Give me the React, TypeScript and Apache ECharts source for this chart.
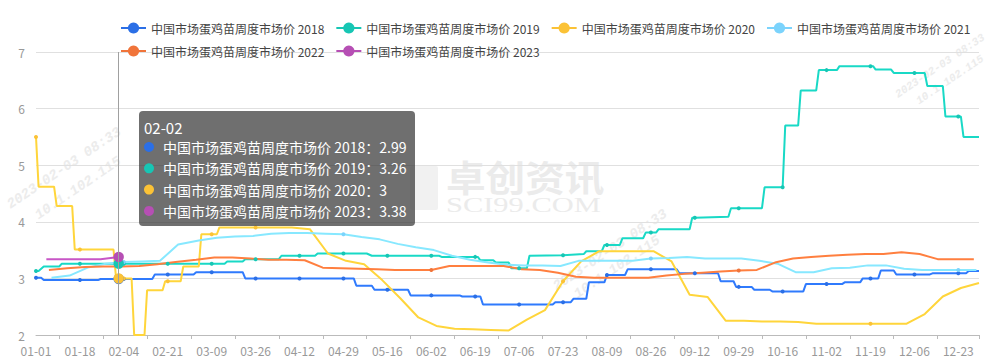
import { useEffect, useRef } from 'react';
import * as echarts from 'echarts';

const FONT = '"Noto Sans CJK SC", "Microsoft YaHei", sans-serif';

// Category axis: every day of a (leap) year as MM-DD
const monthLengths = [31, 29, 31, 30, 31, 30, 31, 31, 30, 31, 30, 31];
const categories: string[] = monthLengths.flatMap((n, m) =>
  Array.from({ length: n }, (_, d) => `${String(m + 1).padStart(2, '0')}-${String(d + 1).padStart(2, '0')}`)
);

const seriesNames = [
  '中国市场蛋鸡苗周度市场价 2018',
  '中国市场蛋鸡苗周度市场价 2019',
  '中国市场蛋鸡苗周度市场价 2020',
  '中国市场蛋鸡苗周度市场价 2021',
  '中国市场蛋鸡苗周度市场价 2022',
  '中国市场蛋鸡苗周度市场价 2023',
];
const seriesColors = ['#2B6FE6', '#17C6B4', '#FBC236', '#7BD3FC', '#F0743A', '#B64FB4'];

const tipDate = '02-02';

const p2018: [string, number][] = [
  ['01-01', 3.01], ['01-03', 3.01], ['01-04', 2.97], ['01-18', 2.97], ['01-25', 2.97], ['01-26', 2.99],
  ['02-02', 2.99], ['02-04', 2.99], ['02-15', 2.99], ['02-16', 3.07], ['02-21', 3.07], ['03-02', 3.07],
  ['03-03', 3.11], ['03-09', 3.11], ['03-21', 3.11], ['03-22', 3.0], ['03-26', 3.0], ['04-12', 3.0],
  ['04-29', 3.0], ['05-03', 3.0], ['05-04', 2.87], ['05-10', 2.87], ['05-11', 2.8], ['05-16', 2.8],
  ['05-24', 2.8], ['05-25', 2.7], ['06-02', 2.7], ['06-13', 2.7], ['06-14', 2.68], ['06-19', 2.68],
  ['06-21', 2.68], ['06-22', 2.54], ['07-06', 2.54], ['07-19', 2.54], ['07-20', 2.58], ['07-23', 2.58],
  ['07-26', 2.58], ['07-27', 2.64], ['08-01', 2.64], ['08-02', 2.93], ['08-08', 2.93], ['08-09', 3.06],
  ['08-16', 3.06], ['08-17', 3.16], ['08-26', 3.16], ['09-05', 3.16], ['09-06', 3.09], ['09-12', 3.09],
  ['09-21', 3.09], ['09-22', 2.95], ['09-27', 2.95], ['09-28', 2.85], ['09-29', 2.85], ['10-04', 2.85],
  ['10-05', 2.8], ['10-11', 2.8], ['10-12', 2.77], ['10-16', 2.77], ['10-24', 2.77], ['10-25', 2.9],
  ['11-02', 2.9], ['11-08', 2.9], ['11-09', 2.93], ['11-15', 2.93], ['11-16', 3.0], ['11-19', 3.0],
  ['11-22', 3.0], ['11-23', 3.14], ['11-28', 3.14], ['11-29', 3.07], ['12-06', 3.07], ['12-12', 3.07],
  ['12-13', 3.09], ['12-23', 3.09], ['12-26', 3.09], ['12-27', 3.13], ['12-31', 3.13],
];

const p2019: [string, number][] = [
  ['01-01', 3.13], ['01-02', 3.13], ['01-04', 3.21], ['01-10', 3.21], ['01-11', 3.26], ['01-18', 3.26],
  ['02-02', 3.26], ['02-04', 3.26], ['02-21', 3.26], ['03-09', 3.26], ['03-14', 3.26], ['03-15', 3.3],
  ['03-21', 3.3], ['03-22', 3.34], ['03-26', 3.34], ['04-04', 3.34], ['04-05', 3.4], ['04-12', 3.4],
  ['04-18', 3.4], ['04-19', 3.44], ['04-29', 3.44], ['05-08', 3.44], ['05-10', 3.4], ['05-16', 3.4],
  ['06-02', 3.4], ['06-05', 3.4], ['06-06', 3.38], ['06-19', 3.38], ['06-20', 3.38], ['06-21', 3.32],
  ['06-26', 3.32], ['06-27', 3.28], ['07-02', 3.28], ['07-03', 3.18], ['07-06', 3.18], ['07-09', 3.18],
  ['07-10', 3.4], ['07-23', 3.41], ['07-31', 3.43], ['08-01', 3.48], ['08-07', 3.48], ['08-08', 3.59],
  ['08-09', 3.59], ['08-14', 3.59], ['08-15', 3.71], ['08-23', 3.71], ['08-24', 3.81], ['08-26', 3.81],
  ['08-28', 3.81], ['08-29', 3.87], ['09-10', 3.87], ['09-11', 4.07], ['09-12', 4.07], ['09-25', 4.09],
  ['09-26', 4.24], ['09-29', 4.24], ['10-08', 4.24], ['10-09', 4.61], ['10-16', 4.61], ['10-17', 5.7],
  ['10-22', 5.7], ['10-23', 6.32], ['10-29', 6.32], ['10-30', 6.68], ['11-02', 6.68], ['11-06', 6.68],
  ['11-07', 6.75], ['11-19', 6.75], ['11-20', 6.75], ['11-21', 6.69], ['11-27', 6.69], ['11-28', 6.63],
  ['12-06', 6.63], ['12-10', 6.63], ['12-11', 6.4], ['12-17', 6.4], ['12-18', 5.86], ['12-23', 5.86],
  ['12-24', 5.86], ['12-25', 5.5], ['12-31', 5.5],
];

const p2020: [string, number][] = [
  ['01-01', 5.5], ['01-02', 4.62], ['01-08', 4.62], ['01-09', 4.28], ['01-15', 4.28], ['01-16', 3.51],
  ['01-18', 3.51], ['01-31', 3.51], ['02-01', 3.0], ['02-02', 3.0], ['02-04', 3.0], ['02-07', 3.0],
  ['02-08', 2.0], ['02-12', 2.0], ['02-13', 2.79], ['02-19', 2.79], ['02-20', 2.95], ['02-21', 2.95],
  ['02-26', 2.95], ['02-27', 3.21], ['03-04', 3.21], ['03-05', 3.78], ['03-09', 3.78], ['03-11', 3.78],
  ['03-12', 3.9], ['03-26', 3.9], ['04-02', 3.9], ['04-09', 3.9], ['04-16', 3.87], ['04-23', 3.44],
  ['04-30', 3.31], ['05-07', 3.25], ['05-14', 2.97], ['05-21', 2.65], ['05-28', 2.31], ['06-04', 2.16],
  ['06-11', 2.11], ['06-18', 2.1], ['06-25', 2.09], ['07-02', 2.08], ['07-09', 2.27], ['07-16', 2.44],
  ['07-23', 2.95], ['07-30', 3.3], ['08-06', 3.48], ['08-13', 3.48], ['08-20', 3.48], ['08-27', 3.48],
  ['09-03', 3.3], ['09-10', 2.71], ['09-17', 2.67], ['09-24', 2.25], ['10-01', 2.25], ['10-08', 2.24],
  ['10-15', 2.24], ['10-22', 2.23], ['10-29', 2.2], ['11-05', 2.2], ['11-12', 2.2], ['11-19', 2.2],
  ['11-26', 2.2], ['12-03', 2.2], ['12-10', 2.37], ['12-17', 2.68], ['12-24', 2.83], ['12-31', 2.92],
];

const p2021: [string, number][] = [
  ['01-07', 3.01], ['01-14', 3.05], ['01-21', 3.19], ['01-28', 3.26], ['02-04', 3.29], ['02-11', 3.3],
  ['02-18', 3.31], ['02-25', 3.6], ['03-04', 3.67], ['03-11', 3.72], ['03-18', 3.74], ['03-25', 3.75],
  ['04-01', 3.79], ['04-08', 3.8], ['04-15', 3.8], ['04-22', 3.79], ['04-29', 3.78], ['05-06', 3.73],
  ['05-13', 3.69], ['05-20', 3.61], ['05-27', 3.55], ['06-03', 3.5], ['06-10', 3.4], ['06-17', 3.33],
  ['06-24', 3.28], ['07-01', 3.24], ['07-08', 3.23], ['07-15', 3.23], ['07-22', 3.22], ['07-29', 3.31],
  ['08-05', 3.31], ['08-12', 3.31], ['08-19', 3.31], ['08-26', 3.35], ['09-02', 3.36], ['09-09', 3.38],
  ['09-16', 3.35], ['09-23', 3.35], ['09-30', 3.35], ['10-07', 3.31], ['10-14', 3.26], ['10-21', 3.11],
  ['10-28', 3.11], ['11-04', 3.18], ['11-11', 3.19], ['11-18', 3.23], ['11-25', 3.23], ['12-02', 3.17],
  ['12-09', 3.15], ['12-16', 3.15], ['12-23', 3.15], ['12-30', 3.15],
];

const p2022: [string, number][] = [
  ['01-06', 3.15], ['01-13', 3.18], ['01-20', 3.2], ['01-27', 3.21], ['02-03', 3.21], ['02-10', 3.22],
  ['02-17', 3.25], ['02-24', 3.29], ['03-03', 3.33], ['03-10', 3.37], ['03-17', 3.37], ['03-24', 3.35],
  ['03-31', 3.33], ['04-07', 3.33], ['04-14', 3.32], ['04-21', 3.19], ['04-28', 3.18], ['05-05', 3.17],
  ['05-12', 3.16], ['05-19', 3.15], ['05-26', 3.15], ['06-02', 3.15], ['06-09', 3.22], ['06-16', 3.22],
  ['06-23', 3.22], ['06-30', 3.22], ['07-07', 3.16], ['07-14', 3.15], ['07-21', 3.1], ['07-28', 3.03],
  ['08-04', 3.01], ['08-11', 3.01], ['08-18', 3.01], ['08-25', 3.01], ['09-01', 3.05], ['09-08', 3.08],
  ['09-15', 3.1], ['09-22', 3.12], ['09-29', 3.14], ['10-06', 3.15], ['10-13', 3.28], ['10-20', 3.35],
  ['10-27', 3.38], ['11-03', 3.4], ['11-10', 3.42], ['11-17', 3.43], ['11-24', 3.43], ['12-01', 3.46],
  ['12-08', 3.43], ['12-15', 3.34], ['12-22', 3.34], ['12-29', 3.34],
];

const p2023: [string, number][] = [
  ['01-05', 3.34], ['01-12', 3.34], ['01-19', 3.34], ['01-26', 3.34], ['02-02', 3.38],
];

const seriesPoints = [p2018, p2019, p2020, p2021, p2022, p2023];

function toDaily(points: [string, number][]): (number | null)[] {
  const arr: (number | null)[] = categories.map(() => null);
  points.forEach(([k, v]) => {
    const i = categories.indexOf(k);
    if (i >= 0) arr[i] = v;
  });
  return arr;
}

export default function App() {
  const ref = useRef<HTMLDivElement>(null);

  useEffect(() => {
    document.body.style.margin = '0';
    if (!ref.current) return;
    const chart = echarts.init(ref.current, null, { renderer: 'svg' });
    const seriesData = seriesPoints.map(toDaily);
    const tipIndex = categories.indexOf(tipDate);
    const tipRows = seriesData
      .map((arr, i) => ({ name: seriesNames[i], color: seriesColors[i], value: arr[tipIndex] }))
      .filter((r) => r.value != null);

    const wmStyle = { fill: '#ececec', fontFamily: '"Liberation Mono", monospace', fontStyle: 'italic', fontWeight: 'bold', align: 'center', verticalAlign: 'middle' };
    const rot = (34 * Math.PI) / 180;
    const wm = (x: number, y: number, text: string, fontSize = 14) => ({ type: 'text', x, y, rotation: rot, z: 0, silent: true, style: { ...wmStyle, fontSize, text } });

    const tooltipChildren: any[] = [
      { type: 'rect', z: 100, shape: { x: 0, y: 0, width: 276, height: 115, r: 4 }, style: { fill: 'rgba(50,50,50,0.7)' } },
      { type: 'text', z: 101, x: 5, y: 16, style: { text: tipDate, fill: '#fff', fontSize: 15, fontFamily: FONT, verticalAlign: 'middle' } },
    ];
    tipRows.forEach((r, i) => {
      const cy = 36 + 21.3 * i;
      tooltipChildren.push({ type: 'circle', z: 101, shape: { cx: 10, cy, r: 5 }, style: { fill: r.color } });
      tooltipChildren.push({ type: 'text', z: 101, x: 24, y: cy, style: { text: `${r.name}：${r.value}`, fill: '#fff', fontSize: 14, fontFamily: FONT, verticalAlign: 'middle' } });
    });

    chart.setOption({
      animation: false,
      textStyle: { fontFamily: FONT },
      color: seriesColors,
      legend: {
        left: 115,
        top: 17,
        width: 875,
        itemWidth: 25,
        itemHeight: 14,
        itemGap: 11,
        textStyle: { fontSize: 12, color: '#444', fontFamily: FONT },
        data: seriesNames,
      },
      grid: { left: 36, right: 17, top: 52, bottom: 29, containLabel: false },
      tooltip: {
        trigger: 'axis',
        showContent: false,
        axisPointer: { type: 'line', lineStyle: { color: '#a0a0a0', width: 1, type: 'solid' } },
      },
      xAxis: {
        type: 'category',
        boundaryGap: false,
        data: categories,
        axisLine: { lineStyle: { color: '#bbbbbb' } },
        axisTick: {
          interval: (i: number) => i % 17 === 9 || i === categories.length - 1,
          length: 4,
          lineStyle: { color: '#bbbbbb' },
        },
        axisLabel: { interval: 16, color: '#999', fontSize: 12, margin: 9 },
      },
      yAxis: {
        type: 'value',
        min: 2,
        max: 7,
        interval: 1,
        axisLine: { show: false },
        axisTick: { show: false },
        axisLabel: { color: '#999', fontSize: 12, margin: 11 },
        splitLine: { lineStyle: { color: '#e0e0e0' } },
      },
      series: seriesData.map((data, i) => ({
        name: seriesNames[i],
        type: 'line',
        data,
        connectNulls: true,
        symbol: 'circle',
        symbolSize: 4,
        showSymbol: true,
        lineStyle: { width: 2, color: seriesColors[i] },
        itemStyle: { color: seriesColors[i] },
        emphasis: { scale: 2.6 },
      })),
      graphic: [
        { type: 'rect', z: 0, silent: true, shape: { x: 410, y: 166, width: 28, height: 44, r: 2 }, style: { fill: '#f1f1f1' } },
        { type: 'text', z: 0, silent: true, x: 446, y: 176, scaleX: 1.1, style: { text: '卓创资讯', fill: '#ebebeb', fontSize: 36, fontFamily: FONT, fontWeight: 'bold', verticalAlign: 'middle' } },
        { type: 'text', z: 0, silent: true, x: 446, y: 205, scaleX: 1.45, style: { text: 'SCI99.COM', fill: '#ebebeb', fontSize: 21, fontFamily: '"Liberation Serif", serif', verticalAlign: 'middle' } },
        wm(64, 168, '2023-02-03 08:33'),
        wm(78, 188, '10.1.102.115'),
        wm(610, 250, '2023-02-03 08:33'),
        wm(617, 267, '10.1.102.115'),
        wm(940, 66, '2023-02-03 08:33', 11),
        wm(950, 80, '10.1.102.115', 11),
        { type: 'group', x: 139, y: 111, z: 100, children: tooltipChildren },
      ],
    });

    chart.dispatchAction({ type: 'showTip', seriesIndex: 0, dataIndex: tipIndex });

    return () => chart.dispose();
  }, []);

  return <div ref={ref} style={{ width: 996, height: 364 }} />;
}
